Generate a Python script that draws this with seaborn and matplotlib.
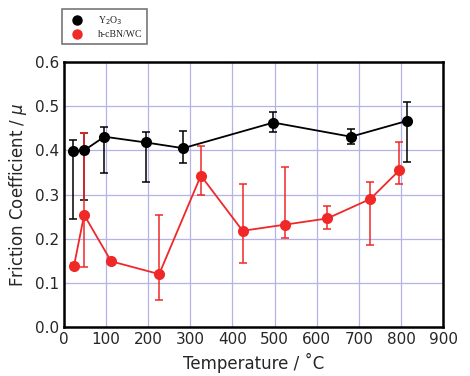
import numpy as np
import pandas as pd
import matplotlib
matplotlib.use("Agg")
import matplotlib.pyplot as plt
import seaborn as sns
from matplotlib.ticker import MultipleLocator
from matplotlib.lines import Line2D

# Y2O3 data
y2o3_temp = [22, 48, 96, 194, 283, 497, 681, 815]
y2o3_mu = [0.398, 0.400, 0.431, 0.418, 0.405, 0.463, 0.431, 0.467]
y2o3_hi = [0.423, 0.440, 0.453, 0.442, 0.443, 0.486, 0.448, 0.509]
y2o3_lo = [0.244, 0.288, 0.349, 0.329, 0.371, 0.441, 0.414, 0.374]

# h-cBN/WC data
cbn_temp = [24, 48, 112, 226, 325, 424, 525, 625, 727, 796]
cbn_mu = [0.139, 0.254, 0.149, 0.120, 0.343, 0.218, 0.232, 0.246, 0.290, 0.355]
cbn_hi = [0.145, 0.439, 0.157, 0.253, 0.410, 0.323, 0.362, 0.275, 0.328, 0.419]
cbn_lo = [0.133, 0.137, 0.142, 0.061, 0.299, 0.146, 0.202, 0.221, 0.185, 0.324]

df = pd.concat([
    pd.DataFrame({"T": y2o3_temp, "mu": y2o3_mu, "hi": y2o3_hi, "lo": y2o3_lo, "s": "Y$_2$O$_3$"}),
    pd.DataFrame({"T": cbn_temp, "mu": cbn_mu, "hi": cbn_hi, "lo": cbn_lo, "s": "h-cBN/WC"}),
])
colors = {"Y$_2$O$_3$": "black", "h-cBN/WC": "#f02828"}

sns.set_style("white")
plt.rcParams['font.family'] = ['DejaVu Sans']

fig = plt.figure(figsize=(4.70, 3.76), dpi=100)
ax = fig.add_axes([0.136, 0.130, 0.807, 0.705])

for name, g in df.groupby("s", sort=False):
    ax.errorbar(g["T"], g["mu"], yerr=[g["mu"] - g["lo"], g["hi"] - g["mu"]],
                fmt="none", ecolor=colors[name], elinewidth=1.1, capsize=3, capthick=1.1, zorder=3)

sns.lineplot(data=df, x="T", y="mu", hue="s", palette=colors, marker="o", markersize=8,
             markeredgewidth=0, linewidth=1.3, ax=ax, zorder=4, legend=False)

ax.set_xlim(0, 900)
ax.set_ylim(0, 0.6)
ax.xaxis.set_major_locator(MultipleLocator(100))
ax.xaxis.set_minor_locator(MultipleLocator(50))
ax.yaxis.set_major_locator(MultipleLocator(0.1))
ax.yaxis.set_minor_locator(MultipleLocator(0.05))
ax.grid(True, which="major", color="#b6b1e8", linewidth=0.9)
ax.set_axisbelow(True)
ax.tick_params(which="both", direction="in", color="black", labelsize=11)
ax.tick_params(which="major", length=4, width=1.2)
ax.tick_params(which="minor", length=2, width=1)
for sp in ax.spines.values():
    sp.set_color("black")
    sp.set_linewidth(1.8)
ax.set_xlabel("Temperature / ˚C", fontsize=12)
ax.set_ylabel("Friction Coefficient / $\\mu$", fontsize=12)

handles = [Line2D([], [], color=c, marker="o", linestyle="none", markersize=6.5) for c in colors.values()]
leg = fig.legend(handles, list(colors.keys()), loc="upper left", bbox_to_anchor=(0.132, 0.975),
                 prop={"family": "Liberation Serif", "size": 7}, frameon=True, fancybox=False,
                 handletextpad=1.2, borderpad=0.5, labelspacing=0.3, borderaxespad=0)
leg.get_frame().set_edgecolor("#555555")
leg.get_frame().set_linewidth(1.2)

fig.savefig("out.png", dpi=100)
